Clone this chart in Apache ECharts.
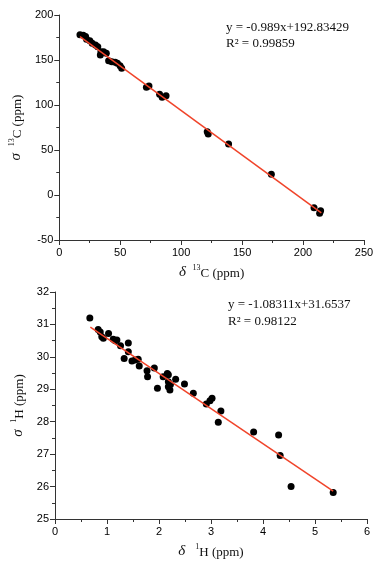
<!DOCTYPE html>
<html>
<head>
<meta charset="utf-8">
<script src="https://cdn.jsdelivr.net/npm/echarts@6/dist/echarts.min.js"></script>
<style>html,body{margin:0;padding:0;background:#fff;}#c{width:383px;height:564px;}</style>
</head>
<body>
<div id="c"></div>
<script>
// Top panel: 13C
const carbonPoints = [
  [17.0,178.0],[19.7,177.5],[21.6,176.0],[22.4,173.0],[25.1,171.5],[27.0,168.5],
  [29.7,166.7],[31.6,164.8],[33.7,155.6],[34.2,159.2],[36.4,159.2],[38.6,157.4],
  [40.5,149.3],[43.1,148.1],[45.9,147.4],[47.7,146.3],[49.9,143.7],[51.2,140.7],
  [71.5,119.6],[73.6,121.1],[82.3,111.9],[84.4,108.5],[87.6,110.4],
  [121.4,70.4],[122.2,67.8],[138.9,56.7],[174.0,23.0],
  [209.0,-14.1],[213.6,-20.4],[214.4,-17.4]
];
const carbonFit = [[17,176.0],[215,-19.8]];
const carbonXTicks = [0,50,100,150,200,250];
const carbonYTicks = [-50,0,50,100,150,200];

// Bottom panel: 1H
const hydrogenPoints = [
  [0.67,31.20],[0.83,30.84],[0.87,30.77],[0.90,30.62],[0.93,30.57],[1.03,30.72],
  [1.12,30.54],[1.16,30.50],[1.19,30.52],[1.26,30.34],[1.41,30.43],[1.41,30.16],
  [1.33,29.95],[1.48,29.87],[1.54,29.90],[1.60,29.93],[1.62,29.72],[1.77,29.57],
  [1.78,29.39],[1.91,29.66],[1.97,29.03],[2.08,29.39],[2.16,29.49],[2.18,29.45],
  [2.18,29.23],[2.18,29.08],[2.21,28.98],[2.22,29.15],[2.32,29.31],[2.49,29.16],
  [2.66,28.88],[2.91,28.55],[2.98,28.65],[3.02,28.72],[3.19,28.33],
  [3.14,27.98],[3.82,27.68],[4.30,27.59],[4.33,26.96],[4.54,26.00],[5.35,25.82]
];
const hydrogenFit = [[0.68,30.92],[5.35,25.86]];
const hydrogenXTicks = [0,1,2,3,4,5,6];
const hydrogenYTicks = [25,26,27,28,29,30,31,32];

const SERIF = '"Liberation Serif","DejaVu Serif",serif';
const SANS = '"Liberation Sans",Arial,sans-serif';
const AX = '#333';

function nameRich() {
  return {
    d: {fontFamily: SERIF, fontStyle: 'italic', fontSize: 15, lineHeight: 16, color: '#111', verticalAlign: 'bottom'},
    s: {fontFamily: SERIF, fontSize: 8, lineHeight: 8, color: '#111', verticalAlign: 'top'},
    n: {fontFamily: SERIF, fontSize: 13, lineHeight: 16, color: '#111', verticalAlign: 'bottom'}
  };
}

function valAxis(gridIndex, ticks, name, nameGap, isY) {
  const min = ticks[0], max = ticks[ticks.length - 1];
  return {
    type: 'value', gridIndex: gridIndex, min: min, max: max,
    interval: ticks[1] - ticks[0],
    name: name, nameLocation: 'middle', nameGap: nameGap,
    nameTextStyle: {rich: nameRich()},
    nameRotate: isY ? 90 : 0,
    axisLine: {show: true, onZero: false, lineStyle: {color: AX, width: 1}},
    axisTick: {show: true, inside: false, length: 5, lineStyle: {color: AX}},
    minorTick: {show: true, splitNumber: 2, length: 3, lineStyle: {color: AX}},
    axisLabel: {fontFamily: SANS, fontSize: 11, color: '#000', margin: isY ? 6 : 7, showMinLabel: true, showMaxLabel: true},
    splitLine: {show: false}
  };
}

const chart = echarts.init(document.getElementById('c'), null, {renderer: 'canvas'});
chart.setOption({
  backgroundColor: '#fff',
  animation: false,
  grid: [
    {left: 55, top: 15, width: 309, height: 225},
    {left: 55, top: 292, width: 312, height: 227}
  ],
  xAxis: [
    valAxis(0, carbonXTicks, '{d|δ}  {s|13}{n|C (ppm)}', 24, false),
    valAxis(1, hydrogenXTicks, '{d|δ}   {s|1}{n|H (ppm)}', 24, false)
  ],
  yAxis: [
    valAxis(0, carbonYTicks, '{d|σ}  {s|13}{n|C (ppm)}', 22, true),
    valAxis(1, hydrogenYTicks, '{d|σ}  {s|1}{n|H (ppm)}', 22, true)
  ],
  graphic: [
    {type: 'text', left: 226, top: 21, style: {text: 'y = -0.989x+192.83429', font: '13px ' + SERIF, fill: '#111'}},
    {type: 'text', left: 226, top: 37, style: {text: 'R² = 0.99859', font: '13px ' + SERIF, fill: '#111'}},
    {type: 'text', left: 228, top: 298, style: {text: 'y = -1.08311x+31.6537', font: '13px ' + SERIF, fill: '#111'}},
    {type: 'text', left: 228, top: 315, style: {text: 'R² = 0.98122', font: '13px ' + SERIF, fill: '#111'}}
  ],
  series: [
    {type: 'line', xAxisIndex: 0, yAxisIndex: 0, data: carbonFit, showSymbol: false, symbol: 'none',
      lineStyle: {color: '#f0442a', width: 1.5}, z: 3},
    {type: 'scatter', xAxisIndex: 0, yAxisIndex: 0, data: carbonPoints, symbolSize: 7,
      itemStyle: {color: '#000', opacity: 1}, z: 2},
    {type: 'line', xAxisIndex: 1, yAxisIndex: 1, data: hydrogenFit, showSymbol: false, symbol: 'none',
      lineStyle: {color: '#f0442a', width: 1.5}, z: 3},
    {type: 'scatter', xAxisIndex: 1, yAxisIndex: 1, data: hydrogenPoints, symbolSize: 7,
      itemStyle: {color: '#000', opacity: 1}, z: 2}
  ]
});
</script>
</body>
</html>
